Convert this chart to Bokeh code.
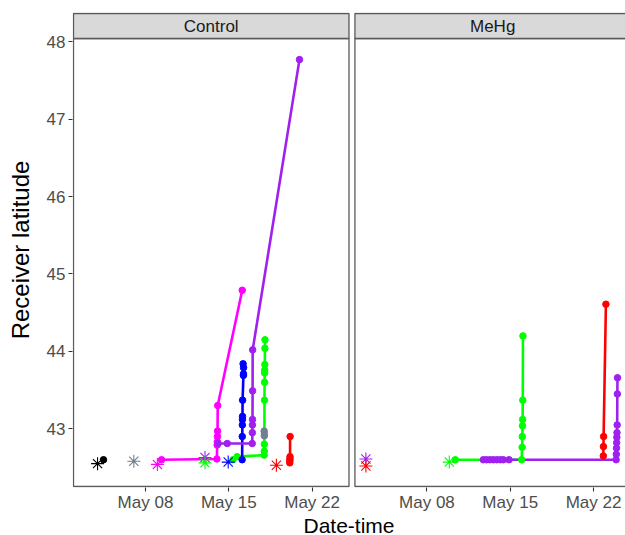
import numpy as np
import pandas as pd
from bokeh.plotting import figure
from bokeh.models import FixedTicker, Range1d, ColumnDataSource
from bokeh.core.properties import value
from bokeh.embed import file_html
from bokeh.resources import INLINE

# ---------------- data ----------------
panels = ["Control", "MeHg"]
tick_dates = ["2019-05-08", "2019-05-15", "2019-05-22"]
tick_labels = ["May 08", "May 15", "May 22"]
lat_ticks = [43, 44, 45, 46, 47, 48]

fish_ids = ["F1", "F2", "F3", "F4", "F5", "F6", "F7", "F8", "F9", "F10"]
fish_panel = ["Control", "Control", "Control", "Control", "Control", "Control", "Control",
              "MeHg", "MeHg", "MeHg"]
release_time = ["2019-05-03 23:17", "2019-05-07 00:29", "2019-05-09 00:00", "2019-05-13 00:00",
                "2019-05-14 22:48", "2019-05-13 00:00", "2019-05-19 00:00",
                "2019-05-02 20:53", "2019-05-09 21:07", "2019-05-02 20:53"]
release_lat = [42.55, 42.58, 42.54, 42.63, 42.57, 42.56, 42.53, 42.61, 42.57, 42.52]

F1_time = ["2019-05-04 11:17"]
F1_lat = [42.60]
F2_time = ["2019-05-17 23:17", "2019-05-17 23:40"]
F2_lat = [42.97, 42.91]
F3_time = ["2019-05-09 08:24", "2019-05-14 00:00", "2019-05-14 00:30", "2019-05-14 00:50",
           "2019-05-14 01:10", "2019-05-14 01:20", "2019-05-14 01:40", "2019-05-16 03:07"]
F3_lat = [42.60, 42.61, 42.79, 42.83, 42.90, 42.97, 43.30, 44.79]
F4_time = ["2019-05-14 02:24", "2019-05-14 20:53", "2019-05-16 23:17", "2019-05-16 23:30",
           "2019-05-16 23:40", "2019-05-16 23:50", "2019-05-17 00:00", "2019-05-17 00:10",
           "2019-05-20 22:34"]
F4_lat = [42.81, 42.81, 42.81, 42.95, 43.05, 43.12, 43.49, 44.02, 47.77]
F5_time = ["2019-05-16 02:53", "2019-05-16 03:10", "2019-05-16 03:20", "2019-05-16 03:30",
           "2019-05-16 03:40", "2019-05-16 03:50", "2019-05-16 05:30", "2019-05-16 05:40",
           "2019-05-16 05:50", "2019-05-16 04:50"]
F5_lat = [42.60, 42.90, 43.05, 43.12, 43.16, 43.37, 43.69, 43.71, 43.79, 43.84]
F6_time = ["2019-05-15 08:24", "2019-05-15 16:48", "2019-05-17 23:17", "2019-05-17 23:30",
           "2019-05-17 23:40", "2019-05-17 23:50", "2019-05-18 00:00", "2019-05-18 00:10",
           "2019-05-18 00:20", "2019-05-18 00:30", "2019-05-18 00:40", "2019-05-18 00:50",
           "2019-05-18 01:00"]
F6_lat = [42.60, 42.64, 42.66, 42.71, 42.80, 42.94, 43.37, 43.60, 43.72, 43.76, 43.83, 44.04, 44.15]
F7_time = ["2019-05-20 03:00", "2019-05-20 03:10", "2019-05-20 03:20", "2019-05-20 03:30",
           "2019-05-20 03:40"]
F7_lat = [42.56, 42.59, 42.61, 42.64, 42.90]
F8_time = ["2019-05-12 17:46", "2019-05-13 00:00", "2019-05-13 07:00", "2019-05-13 14:00",
           "2019-05-13 21:00", "2019-05-14 04:00", "2019-05-14 10:05", "2019-05-14 21:36",
           "2019-05-23 21:36", "2019-05-23 22:00", "2019-05-23 22:20", "2019-05-23 22:40",
           "2019-05-23 23:00", "2019-05-23 23:20", "2019-05-23 23:40", "2019-05-24 00:00",
           "2019-05-24 00:20"]
F8_lat = [42.60, 42.60, 42.60, 42.60, 42.60, 42.60, 42.60, 42.60,
          42.60, 42.67, 42.75, 42.82, 42.89, 42.95, 43.05, 43.45, 43.66]
F9_time = ["2019-05-10 09:07", "2019-05-15 23:02", "2019-05-16 00:00", "2019-05-16 00:20",
           "2019-05-16 00:40", "2019-05-16 01:00", "2019-05-16 01:20", "2019-05-16 01:40"]
F9_lat = [42.60, 42.60, 42.76, 42.90, 43.04, 43.12, 43.37, 44.20]
F10_time = ["2019-05-22 19:41", "2019-05-22 20:00", "2019-05-22 20:20", "2019-05-23 00:58"]
F10_lat = [42.65, 42.77, 42.90, 44.61]

detections = {"F1": (F1_time, F1_lat), "F2": (F2_time, F2_lat), "F3": (F3_time, F3_lat),
              "F4": (F4_time, F4_lat), "F5": (F5_time, F5_lat), "F6": (F6_time, F6_lat),
              "F7": (F7_time, F7_lat), "F8": (F8_time, F8_lat), "F9": (F9_time, F9_lat),
              "F10": (F10_time, F10_lat)}

# ---------------- styles / layout ----------------
fish_color = {"F1": "#000000", "F2": "#708090", "F3": "#FF00FF", "F4": "#A020F0",
              "F5": "#0000FF", "F6": "#00FF00", "F7": "#FF0000", "F8": "#A020F0",
              "F9": "#00FF00", "F10": "#FF0000"}
draw_order = ["F6", "F9", "F3", "F5", "F4", "F8", "F7", "F10", "F1", "F2"]

FONT = "Liberation Sans"
BORDER = "#5a5a5a"
PX_DAY = 11.9
PX_LAT = 77.4
panel_left_day = 1.95
panel_span_days = 23.15
panel_offset = {"Control": 0.0, "MeHg": 23.65}
panel_bottom_lat = 42.2545
strip_bottom_lat = 48.0426
strip_top_lat = 48.3656

FRAME_W, FRAME_H = 553, 475
x0 = panel_left_day - 1 / PX_DAY
y0 = panel_bottom_lat - 1 / PX_LAT

REF = pd.Timestamp("2019-05-01")


def day_of_may(ts):
    t = pd.to_datetime(pd.Series(ts))
    return ((t - REF).dt.total_seconds() / 86400.0 + 1.0).to_numpy()


p = figure(frame_width=FRAME_W, frame_height=FRAME_H,
           x_range=Range1d(x0, x0 + FRAME_W / PX_DAY),
           y_range=Range1d(y0, y0 + FRAME_H / PX_LAT),
           output_backend="svg", toolbar_location=None,
           min_border_left=72, min_border_right=0, min_border_top=12, min_border_bottom=47,
           background_fill_color="white", border_fill_color="white",
           outline_line_color=None)

p.xgrid.visible = False
p.ygrid.visible = False

# panel backgrounds / borders / strips
lefts = [panel_left_day + panel_offset[k] for k in panels]
rights = [l + panel_span_days for l in lefts]
p.quad(left=lefts, right=rights, bottom=panel_bottom_lat, top=strip_bottom_lat,
       fill_color=None, line_color=BORDER, line_width=1.3)
p.quad(left=lefts, right=rights, bottom=strip_bottom_lat, top=strip_top_lat,
       fill_color="#d9d9d9", line_color=BORDER, line_width=1.3)
p.text(x=[(l + r) / 2 for l, r in zip(lefts, rights)],
       y=[(strip_bottom_lat + strip_top_lat) / 2] * len(panels), text=panels,
       text_align="center", text_baseline="middle", text_font=value(FONT),
       text_font_size="17px", text_color="#1a1a1a")

# tracks
idx = {f: i for i, f in enumerate(fish_ids)}
for f in draw_order:
    t, lat = detections[f]
    x = day_of_may(t) + panel_offset[fish_panel[idx[f]]]
    if len(x) > 1:
        p.line(x, lat, line_color=fish_color[f], line_width=2.6)
for f in draw_order:
    t, lat = detections[f]
    x = day_of_may(t) + panel_offset[fish_panel[idx[f]]]
    p.scatter(x, lat, size=6.5, fill_color=fish_color[f], line_color=fish_color[f])

rel_x = day_of_may(release_time) + np.array([panel_offset[k] for k in fish_panel])
rel_src = ColumnDataSource(dict(x=rel_x, y=release_lat,
                                c=[fish_color[f] for f in fish_ids]))
p.scatter("x", "y", source=rel_src, marker="asterisk", size=13,
          line_color="c", line_width=1.1)

# axes
tick_pos, tick_map = [], {}
for k in panels:
    for d, lab in zip(day_of_may(tick_dates), tick_labels):
        v = float(d + panel_offset[k])
        tick_pos.append(v)
        tick_map[v] = lab
p.xaxis.ticker = FixedTicker(ticks=tick_pos)
p.xaxis.major_label_overrides = tick_map
p.yaxis.ticker = FixedTicker(ticks=lat_ticks)

for ax in (p.xaxis, p.yaxis):
    ax.axis_line_color = None
    ax.major_tick_line_color = "#333333"
    ax.major_tick_line_width = 1.1
    ax.major_tick_out = 4
    ax.major_tick_in = 0
    ax.minor_tick_line_color = None
    ax.major_label_text_font = FONT
    ax.major_label_text_font_size = "17px"
    ax.major_label_text_color = "#4d4d4d"
    ax.axis_label_text_font = FONT
    ax.axis_label_text_font_size = "21px"
    ax.axis_label_text_font_style = "normal"
    ax.axis_label_text_color = "#000000"

p.xaxis.axis_label = "Date-time"
p.yaxis.axis_label = "Receiver latitude"
p.yaxis.axis_label_text_font_size = "24px"
p.xaxis.major_label_standoff = 1
p.xaxis.axis_label_standoff = -1
p.yaxis.major_label_standoff = 3
p.yaxis.axis_label_standoff = 10

open("out.html", "w").write(file_html(p, INLINE))
